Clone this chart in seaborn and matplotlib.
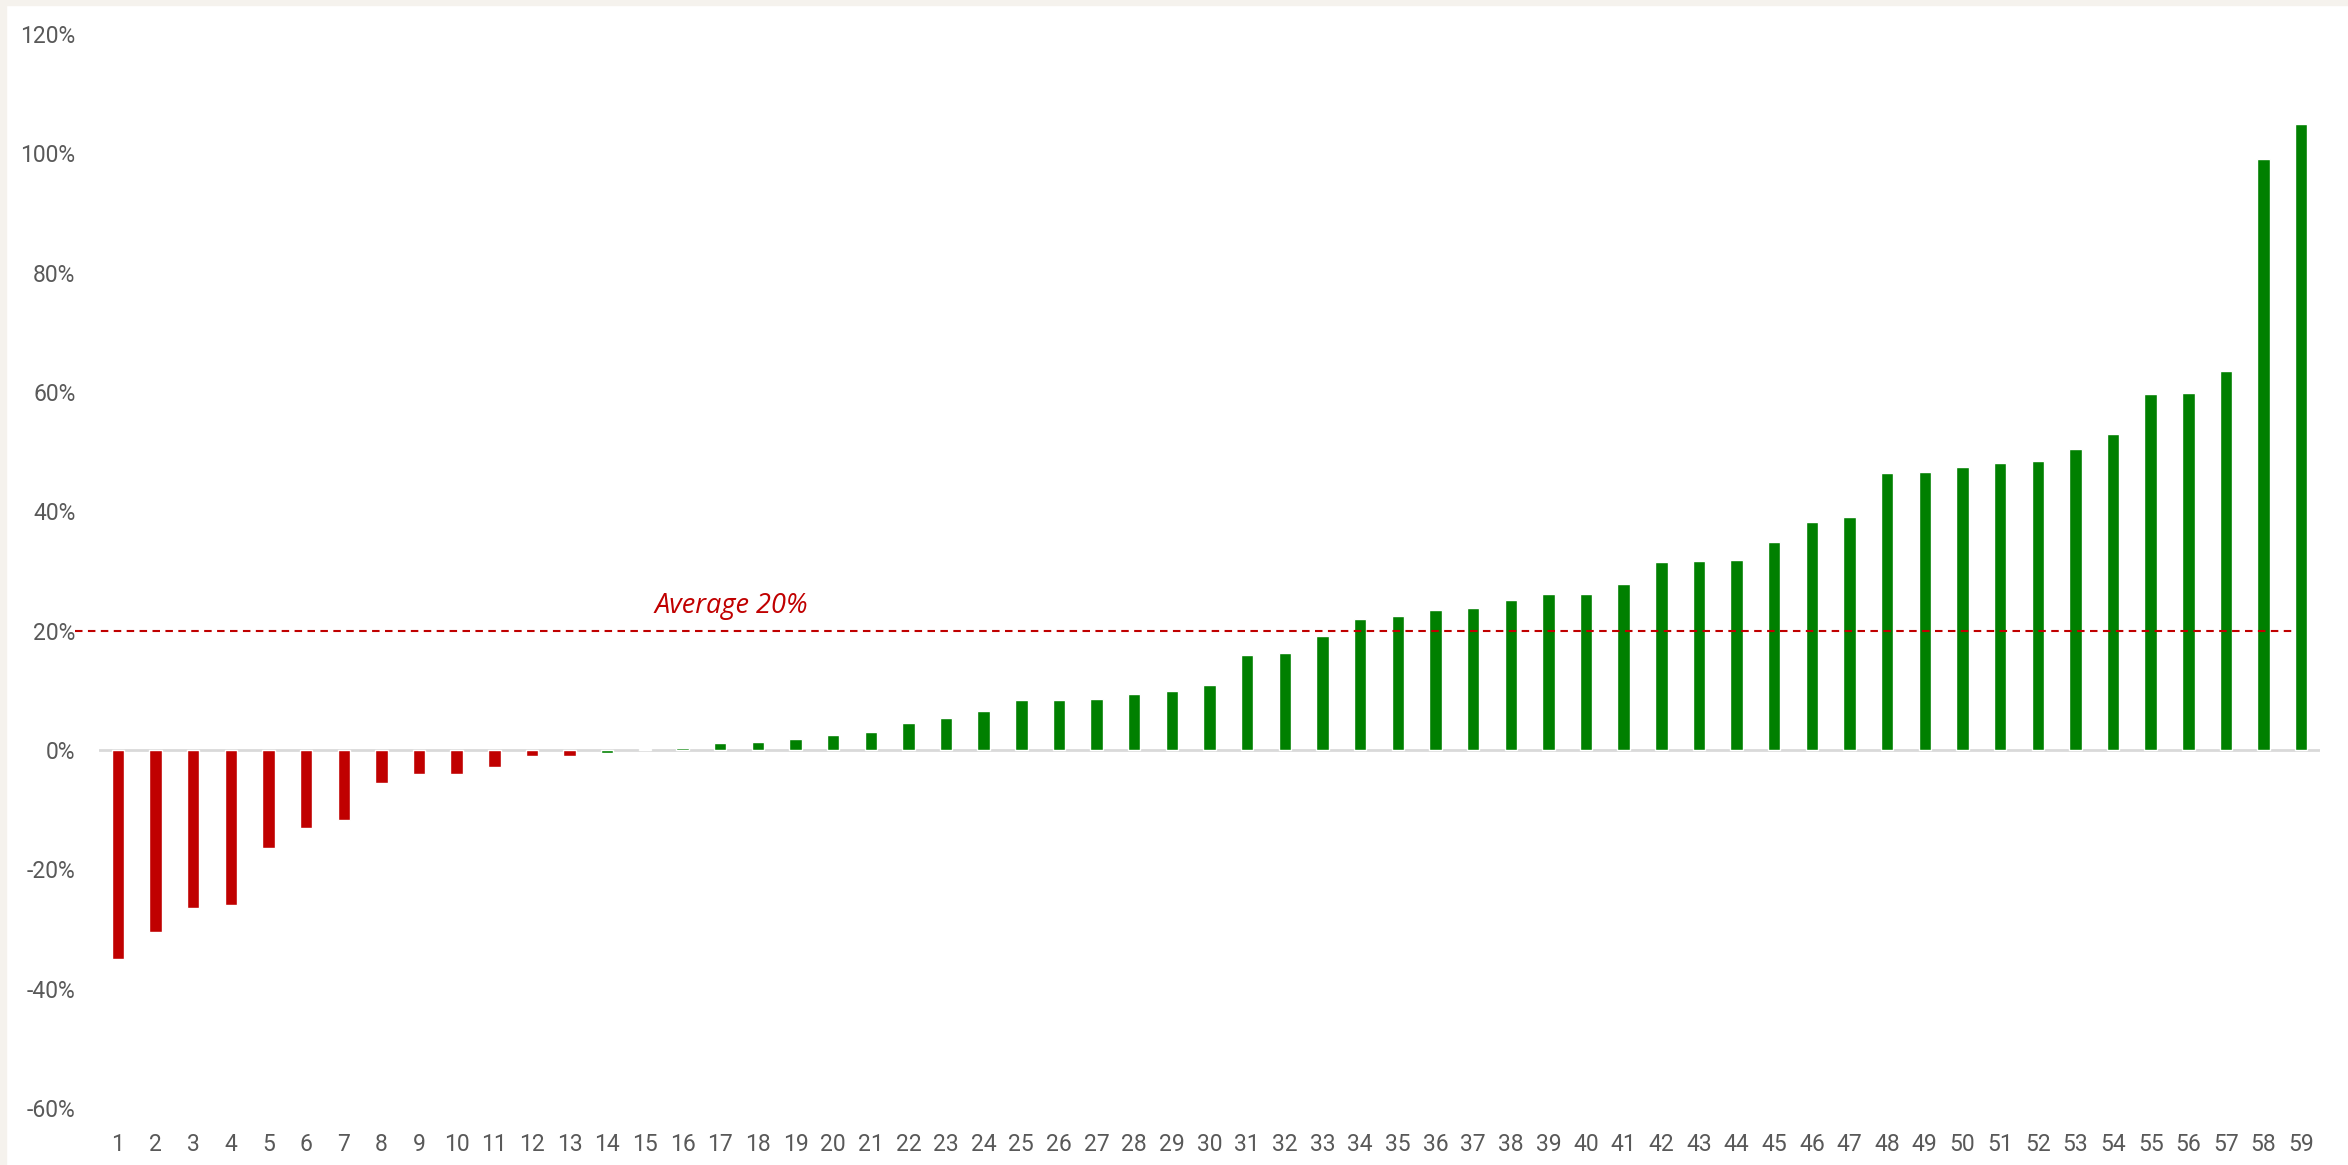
import matplotlib
matplotlib.use("Agg")
import matplotlib.pyplot as plt
import matplotlib.patches as mpatches
from matplotlib.ticker import FuncFormatter
import numpy as np
import pandas as pd
import seaborn as sns

# ---- data -------------------------------------------------------------
categories = [str(i) for i in range(1, 60)]
returns_pct = [
    -35.0, -30.5, -26.5, -25.9, -16.4, -13.0, -11.7, -5.5, -4.0, -4.0,
    -2.8, -0.95, -0.95, -0.45, 0.15, 0.33, 1.2, 1.4, 1.9, 2.5,
    3.1, 4.6, 5.4, 6.5, 8.4, 8.4, 8.6, 9.4, 9.9, 10.9,
    15.9, 16.3, 19.1, 22.0, 22.5, 23.4, 23.8, 25.1, 26.2, 26.2,
    27.9, 31.5, 31.7, 31.9, 34.9, 38.3, 39.0, 46.4, 46.6, 47.4,
    48.1, 48.4, 50.5, 53.0, 59.6, 59.9, 63.6, 99.0, 104.9,
]
average_pct = 20.0
y_ticks_pct = [-60, -40, -20, 0, 20, 40, 60, 80, 100, 120]

# ---- styling ----------------------------------------------------------
RED = "#C00000"
GREEN = "#008000"
TICK_GREY = "#595959"
AXIS_GREY = "#D9D9D9"
FRAME = "#F5F2ED"

sns.set_theme(style="white")
plt.rcParams["font.family"] = ["Roboto", "DejaVu Sans"]

values = np.array(returns_pct) / 100.0
# a bar counts as a loss when it rounds to a negative whole percent
df = pd.DataFrame({
    "item": categories,
    "value": values,
    "sign": np.where(np.round(values * 100) < 0, "neg", "pos"),
})

fig = plt.figure(figsize=(23.48, 11.65), dpi=100)
fig.patch.set_facecolor("white")
ax = fig.add_axes([0.0422, 0.0489, 0.9459, 0.9219])

sns.barplot(
    data=df, x="item", y="value", hue="sign", order=categories,
    palette={"neg": RED, "pos": GREEN}, width=0.33, dodge=False,
    legend=False, saturation=1.0, ax=ax, zorder=3,
)

# horizontal axis line at zero
ax.axhline(0, color=AXIS_GREY, lw=2.0, zorder=2)

# average reference line and its label
avg = average_pct / 100.0
ax.plot([-1.15, 57.85], [avg, avg], color=RED, lw=1.5,
        linestyle=(0, (3.6, 2.6)), clip_on=False, zorder=4)
ax.text(16.3, avg + 0.03, f"Average {average_pct:.0f}%", color=RED,
        fontsize=19.5, style="italic", ha="center", va="baseline",
        family=["Open Sans", "DejaVu Sans"], zorder=5)

ax.set_xlim(-0.5, len(categories) - 0.5)
ax.set_ylim(-0.6, 1.2)
ax.set_yticks([t / 100.0 for t in y_ticks_pct])
ax.yaxis.set_major_formatter(FuncFormatter(lambda v, _: f"{v * 100:.0f}%"))
ax.set_xlabel("")
ax.set_ylabel("")

for s in ax.spines.values():
    s.set_visible(False)
ax.grid(False)
ax.tick_params(axis="both", length=0, labelsize=16.5, labelcolor=TICK_GREY)
ax.tick_params(axis="y", pad=17)
ax.tick_params(axis="x", pad=18)

# light frame along the top and left edges
fig.patches.append(mpatches.Rectangle((0, 1 - 5 / 1165), 1, 5 / 1165,
                   transform=fig.transFigure, color=FRAME, zorder=0))
fig.patches.append(mpatches.Rectangle((0, 0), 6 / 2348, 1,
                   transform=fig.transFigure, color=FRAME, zorder=0))

fig.savefig("out.png", dpi=100)
